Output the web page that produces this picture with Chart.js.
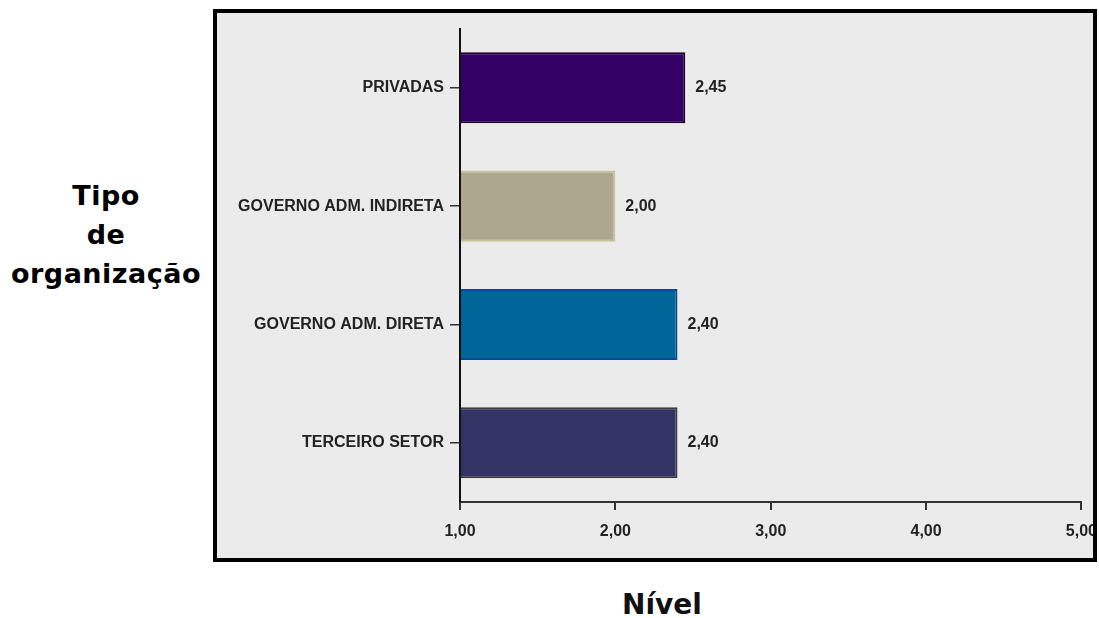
<!DOCTYPE html>
<html>
<head>
<meta charset="utf-8">
<script src="https://cdn.jsdelivr.net/npm/chart.js@4.4.1/dist/chart.umd.min.js"></script>
<style>
  html, body { margin: 0; padding: 0; background: #fff; width: 1099px; height: 618px; overflow: hidden; }
  #box { position: absolute; left: 213px; top: 9px; width: 876px; height: 545px; border: 4px solid #000; background: #ebebeb; overflow: hidden; }
  #chart { display: block; }
  #ytitle { position: absolute; left: 0; top: 176px; width: 212px; text-align: center; font: bold 27px "DejaVu Sans", sans-serif; letter-spacing: 0.5px; line-height: 39px; color: #000; }
  #xtitle { position: absolute; left: 562px; top: 588px; width: 200px; text-align: center; font: bold 28px "DejaVu Sans", sans-serif; color: #111; }
</style>
</head>
<body>
<div id="ytitle">Tipo<br>de<br>organização</div>
<div id="box"><canvas id="chart" width="892" height="545"></canvas></div>
<div id="xtitle">Nível</div>
<script>
var categories = ["PRIVADAS", "GOVERNO ADM. INDIRETA", "GOVERNO ADM. DIRETA", "TERCEIRO SETOR"];
var values = [2.45, 2.00, 2.40, 2.40];
var xTicks = [1, 2, 3, 4, 5];
var fills = ["#330066", "#aca78f", "#006699", "#333366"];
var borders = ["#1e0030", "#c8c39a", "#004a99", "#3d3d3d"];

function fmt(n) { return n.toFixed(2).replace(".", ","); }

var valueLabels = {
  id: "valueLabels",
  afterDatasetsDraw: function (chart) {
    var ctx = chart.ctx;
    var meta = chart.getDatasetMeta(0);
    ctx.save();
    ctx.font = "bold 16px 'Liberation Sans', Arial, sans-serif";
    ctx.fillStyle = "#222";
    ctx.textAlign = "left";
    ctx.textBaseline = "middle";
    meta.data.forEach(function (bar, i) {
      ctx.fillText(fmt(values[i]), bar.x + 10, bar.y);
    });
    ctx.restore();
  }
};

new Chart(document.getElementById("chart"), {
  type: "bar",
  data: {
    labels: categories,
    datasets: [{
      data: values,
      backgroundColor: fills,
      borderColor: borders,
      borderWidth: 2,
      barPercentage: 0.6,
      categoryPercentage: 1,
      base: 1
    }]
  },
  options: {
    indexAxis: "y",
    responsive: false,
    animation: false,
    layout: { padding: { left: 0, right: 12, top: 14, bottom: 0 } },
    plugins: { legend: { display: false }, tooltip: { enabled: false } },
    scales: {
      x: {
        type: "linear",
        min: 1,
        max: 5,
        afterFit: function (s) { s.height = 56; },
        afterBuildTicks: function (s) { s.ticks = xTicks.map(function (v) { return { value: v }; }); },
        grid: { drawOnChartArea: false, drawTicks: true, tickLength: 8, color: "#333", lineWidth: 2 },
        border: { display: true, color: "#333", width: 2 },
        ticks: { padding: 12, color: "#222", font: { family: "'Liberation Sans', Arial, sans-serif", size: 16, weight: "bold" }, callback: function (v) { return fmt(v); } }
      },
      y: {
        afterFit: function (s) { s.width = 243; },
        grid: { offset: false, drawOnChartArea: false, drawTicks: true, tickLength: 10, color: "#333", lineWidth: 1.5 },
        border: { display: true, color: "#111", width: 2 },
        ticks: { padding: 6, color: "#222", font: { family: "'Liberation Sans', Arial, sans-serif", size: 16, weight: "bold" } }
      }
    }
  },
  plugins: [valueLabels]
});
</script>
</body>
</html>
